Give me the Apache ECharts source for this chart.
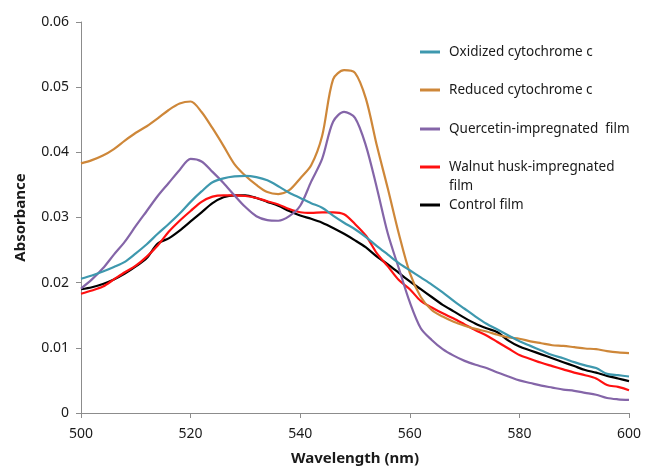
<!DOCTYPE html>
<html><head><meta charset="utf-8">
<script src="https://cdn.jsdelivr.net/npm/echarts@6/dist/echarts.min.js"></script>
<style>html,body{margin:0;padding:0;background:#fff}#c{width:651px;height:471px}</style>
</head><body><div id="c"></div>
<script>
const wavelengths = [500,502,504,506,508,510,512,514,516,518,520,522,524,526,528,530,532,534,536,538,540,542,544,546,548,550,552,554,556,558,560,562,564,566,568,570,572,574,576,578,580,582,584,586,588,590,592,594,596,598,600];
const oxidized = [0.0206,0.0211,0.0217,0.0224,0.0232,0.0245,0.0259,0.0275,0.0290,0.0306,0.0324,0.0340,0.0354,0.0360,0.0363,0.0364,0.0362,0.0357,0.0348,0.0338,0.0330,0.0322,0.0315,0.0303,0.0292,0.0282,0.0270,0.0256,0.0243,0.0230,0.0219,0.0208,0.0197,0.0185,0.0172,0.0160,0.0148,0.0137,0.0128,0.0119,0.0110,0.0103,0.0096,0.0089,0.0084,0.0078,0.0073,0.0069,0.0060,0.0058,0.0056];
const reduced = [0.0383,0.0388,0.0395,0.0405,0.0418,0.0430,0.0440,0.0452,0.0465,0.0475,0.0478,0.0462,0.0437,0.0410,0.0382,0.0364,0.0350,0.0339,0.0336,0.0342,0.0360,0.0380,0.0425,0.0512,0.0526,0.0522,0.0482,0.0410,0.0344,0.0275,0.0215,0.0178,0.0158,0.0148,0.0140,0.0134,0.0129,0.0125,0.0120,0.0116,0.0114,0.0110,0.0107,0.0104,0.0103,0.0101,0.0099,0.0098,0.0095,0.0093,0.0092];
const quercetin = [0.0191,0.0205,0.0222,0.0243,0.0263,0.0287,0.0310,0.0333,0.0353,0.0373,0.0390,0.0386,0.0370,0.0353,0.0334,0.0316,0.0302,0.0296,0.0295,0.0302,0.0318,0.0355,0.0390,0.0447,0.0462,0.0453,0.0410,0.0345,0.0275,0.0222,0.0170,0.0130,0.0112,0.0098,0.0088,0.0080,0.0074,0.0069,0.0062,0.0056,0.0050,0.0046,0.0042,0.0039,0.0036,0.0034,0.0031,0.0028,0.0023,0.0021,0.0020];
const walnut = [0.0183,0.0188,0.0194,0.0205,0.0216,0.0226,0.0240,0.0257,0.0278,0.0295,0.0310,0.0324,0.0332,0.0334,0.0334,0.0333,0.0330,0.0325,0.0320,0.0313,0.0308,0.0307,0.0308,0.0308,0.0305,0.0290,0.0272,0.0245,0.0225,0.0204,0.0190,0.0172,0.0162,0.0153,0.0145,0.0136,0.0127,0.0119,0.0109,0.0099,0.0089,0.0083,0.0077,0.0072,0.0067,0.0062,0.0058,0.0053,0.0043,0.0040,0.0035];
const control = [0.0190,0.0193,0.0198,0.0205,0.0214,0.0225,0.0238,0.0260,0.0268,0.0280,0.0294,0.0308,0.0322,0.0331,0.0334,0.0334,0.0330,0.0324,0.0318,0.0310,0.0303,0.0298,0.0292,0.0284,0.0275,0.0265,0.0254,0.0240,0.0228,0.0215,0.0202,0.0190,0.0178,0.0166,0.0156,0.0146,0.0137,0.0130,0.0124,0.0111,0.0102,0.0096,0.0090,0.0084,0.0078,0.0072,0.0066,0.0062,0.0057,0.0053,0.0049];
const seriesNames = ['Oxidized cytochrome c','Reduced cytochrome c','Quercetin-impregnated  film','Walnut husk-impregnated film','Control film'];
const seriesColors = ['#3E98AE','#CE8739','#8465A8','#FF1010','#000000'];
const seriesData = [oxidized, reduced, quercetin, walnut, control];

const chart = echarts.init(document.getElementById('c'), null, {renderer:'canvas'});
const font = 'Noto Sans';
const legendTops = [50,88,127,165,203];
const legends = seriesNames.map((n,i)=>({
  left: 420, top: legendTops[i]-7, orient:'vertical', padding:0,
  data:[n], icon:'rect', itemWidth:20, itemHeight:3,
  formatter: (name)=> name.startsWith('Walnut') ? 'Walnut husk-impregnated' : name,
  textStyle:{fontFamily:font, fontSize:13.5, color:'#1a1a1a', padding:[0,0,0,4], lineHeight:18}
}));
chart.setOption({
  animation:false,
  backgroundColor:'#fff',
  grid:{left:81, right:22, top:22, bottom:56},
  legend: legends,
  graphic:[{type:'text', left:449, top:179, style:{text:'film', font:'13.5px "Noto Sans"', fill:'#1a1a1a'}}],
  xAxis:{type:'value', min:500, max:600, interval:20,
    name:'Wavelength (nm)', nameLocation:'middle', nameGap:38,
    nameTextStyle:{fontFamily:font, fontSize:15, fontWeight:'bold', color:'#1a1a1a'},
    axisLine:{lineStyle:{color:'#8c8c8c', width:1}},
    axisTick:{show:true, inside:false, length:5, lineStyle:{color:'#8c8c8c'}},
    axisLabel:{fontFamily:font, fontSize:14, color:'#1a1a1a', margin:14},
    splitLine:{show:false}},
  yAxis:{type:'value', min:0, max:0.06, interval:0.01,
    name:'Absorbance', nameLocation:'middle', nameGap:53, nameRotate:90,
    nameTextStyle:{fontFamily:font, fontSize:15, fontWeight:'bold', color:'#1a1a1a'},
    axisLine:{show:true, lineStyle:{color:'#8c8c8c', width:1}},
    axisTick:{show:true, inside:false, length:5, lineStyle:{color:'#8c8c8c'}},
    axisLabel:{fontFamily:font, fontSize:14, color:'#1a1a1a', margin:12,
      formatter:(v)=> v===0 ? '0' : v.toFixed(2)},
    splitLine:{show:false}},
  series: seriesNames.map((n,i)=>({
    name:n, type:'line', showSymbol:false, symbol:'none', smooth:0.3,
    data: wavelengths.map((w,j)=>[w, seriesData[i][j]]),
    lineStyle:{color:seriesColors[i], width:2.2},
    itemStyle:{color:seriesColors[i]}, z: 10-i
  }))
});
</script></body></html>
